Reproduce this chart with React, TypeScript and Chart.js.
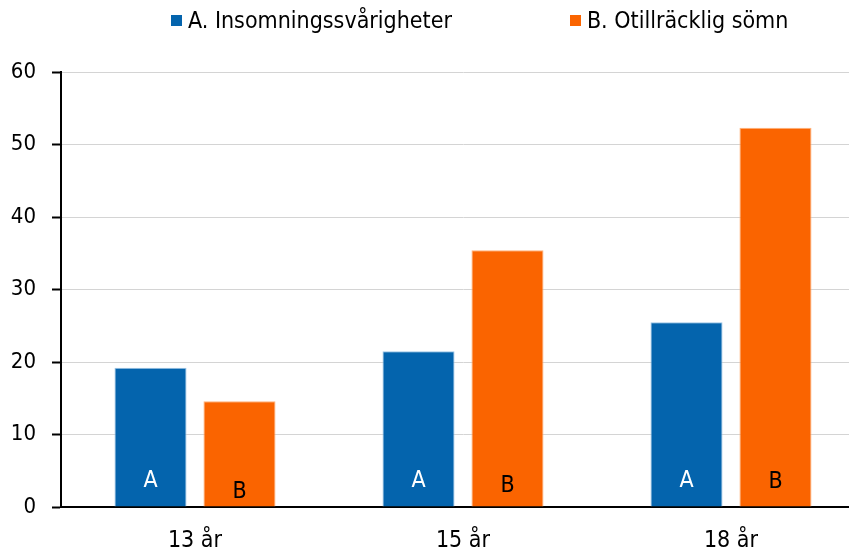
import React, { useEffect, useRef } from "react";
import { Chart, registerables } from "chart.js";

Chart.register(...registerables);

const categories = ["13 år", "15 år", "18 år"];
const seriesNames = ["A. Insomningssvårigheter", "B. Otillräcklig sömn"];
const seriesA = [19.2, 21.5, 25.5];
const seriesB = [14.6, 35.4, 52.3];
const barLetters = ["A", "B"];
const letterHeightsA = [3.6, 3.6, 3.6];
const letterHeightsB = [2.1, 2.9, 3.4];
const yTicks = [0, 10, 20, 30, 40, 50, 60];

const BLUE = "#0464ad";
const ORANGE = "#fa6400";
const FONT = "'DejaVu Sans Condensed', 'DejaVu Sans', sans-serif";

const letterPlugin = {
  id: "barLetters",
  afterDatasetsDraw(chart: any) {
    const ctx = chart.ctx;
    const yScale = chart.scales.y;
    const heights = [letterHeightsA, letterHeightsB];
    chart.data.datasets.forEach((ds: any, di: number) => {
      const meta = chart.getDatasetMeta(di);
      meta.data.forEach((bar: any, i: number) => {
        ctx.save();
        ctx.font = `23px ${FONT}`;
        ctx.textAlign = "center";
        ctx.textBaseline = "middle";
        ctx.fillStyle = di === 0 ? "#ffffff" : "#000000";
        ctx.fillText(barLetters[di], bar.x, yScale.getPixelForValue(heights[di][i]));
        ctx.restore();
      });
    });
  },
};

export default function App() {
  const ref = useRef<HTMLCanvasElement>(null);
  useEffect(() => {
    if (!ref.current) return;
    const chart = new Chart(ref.current, {
      type: "bar",
      data: {
        labels: categories,
        datasets: [
          {
            label: seriesNames[0],
            data: seriesA,
            backgroundColor: BLUE,
            borderColor: "#9cc4e6",
            borderWidth: 1,
            categoryPercentage: 0.664,
            barPercentage: 0.81,
          },
          {
            label: seriesNames[1],
            data: seriesB,
            backgroundColor: ORANGE,
            borderColor: "#ffb27a",
            borderWidth: 1,
            categoryPercentage: 0.664,
            barPercentage: 0.81,
          },
        ],
      },
      options: {
        animation: false,
        responsive: false,
        maintainAspectRatio: false,
        layout: { padding: { top: 72, left: 0, right: 0, bottom: 0 } },
        plugins: {
          legend: { display: false },
          tooltip: { enabled: false },
        },
        scales: {
          x: {
            grid: { display: false, drawTicks: false },
            border: { color: "#000000", width: 2 },
            ticks: {
              color: "#000000",
              font: { family: FONT, size: 23, lineHeight: 1 },
              padding: 23,
            },
            afterFit: (s: any) => {
              s.height = 44;
            },
          },
          y: {
            min: 0,
            max: 60,
            afterBuildTicks: (s: any) => {
              s.ticks = yTicks.map((v) => ({ value: v }));
            },
            grid: {
              color: "#d4d4d4",
              lineWidth: 1,
              tickLength: 9,
              tickColor: "#000000",
              tickWidth: 2,
            },
            border: { color: "#000000", width: 2 },
            ticks: {
              color: "#000000",
              font: { family: FONT, size: 22 },
              padding: 16,
            },
            afterFit: (s: any) => {
              s.width = 61;
            },
          },
        },
      },
      plugins: [letterPlugin],
    });
    return () => chart.destroy();
  }, []);

  return (
    <div
      style={{
        position: "fixed",
        left: 0,
        top: 0,
        width: 849,
        height: 551,
        overflow: "hidden",
        background: "#ffffff",
      }}
    >
      <canvas
        ref={ref}
        width={865}
        height={551}
        style={{ position: "absolute", left: 0, top: 0, width: 865, height: 551 }}
      />
      <div
        style={{
          position: "absolute",
          top: 6,
          left: 171,
          display: "flex",
          alignItems: "center",
          fontFamily: FONT,
          fontSize: 23,
          lineHeight: "28px",
          color: "#000",
          whiteSpace: "nowrap",
        }}
      >
        {seriesNames.map((name, i) => (
          <div
            key={name}
            style={{ display: "flex", alignItems: "center", marginRight: i === 0 ? 118 : 0 }}
          >
            <span
              style={{
                display: "inline-block",
                width: 11,
                height: 11,
                background: i === 0 ? BLUE : ORANGE,
                marginRight: 6,
              }}
            />
            <span>{name}</span>
          </div>
        ))}
      </div>
    </div>
  );
}
